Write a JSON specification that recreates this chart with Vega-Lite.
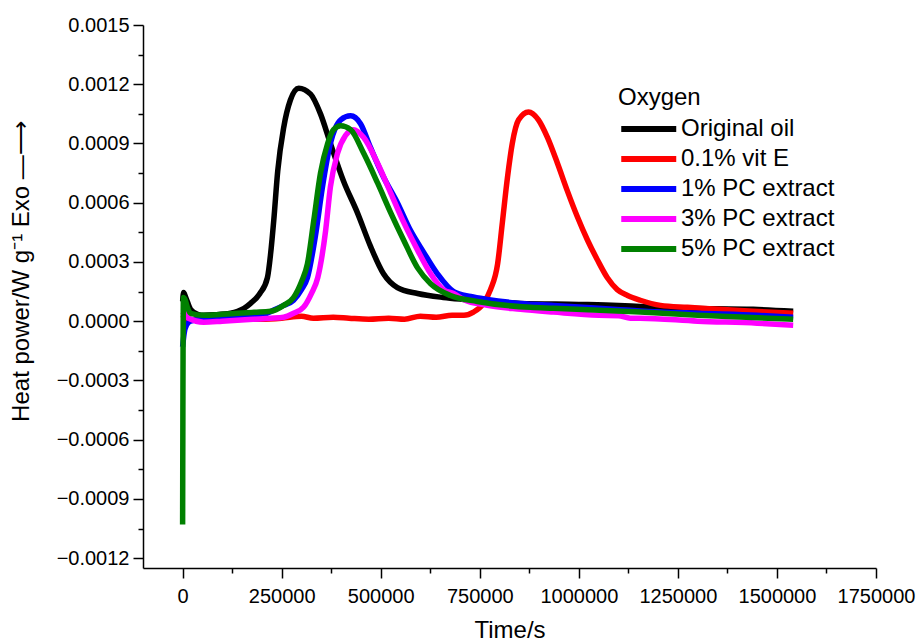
{
  "$schema": "https://vega.github.io/schema/vega-lite/v6.json",
  "autosize": {"type": "none"},
  "padding": {"left": 143, "top": 25, "right": 40, "bottom": 73},
  "width": 733,
  "height": 543,
  "background": "white",
  "config": {
    "view": {"stroke": null},
    "font": "Liberation Sans",
    "axis": {
      "grid": false,
      "domainColor": "black",
      "domainWidth": 1.5,
      "tickColor": "black",
      "tickWidth": 1.5,
      "labelColor": "black",
      "titleColor": "black",
      "labelFont": "Liberation Sans",
      "titleFont": "Liberation Sans",
      "labelFontSize": 20,
      "titleFontSize": 24,
      "titleFontWeight": "normal"
    }
  },
  "data": {
    "values": [
      {"series": "Original oil", "t": 0, "v": 0.0001},
      {"series": "Original oil", "t": 2500, "v": 0.000145},
      {"series": "Original oil", "t": 8000, "v": 0.00012},
      {"series": "Original oil", "t": 20000, "v": 0.00006},
      {"series": "Original oil", "t": 38000, "v": 0.000035},
      {"series": "Original oil", "t": 53000, "v": 0.00003},
      {"series": "Original oil", "t": 80000, "v": 0.000032},
      {"series": "Original oil", "t": 121000, "v": 0.00004},
      {"series": "Original oil", "t": 139000, "v": 0.00005},
      {"series": "Original oil", "t": 155000, "v": 0.000065},
      {"series": "Original oil", "t": 171500, "v": 0.00009},
      {"series": "Original oil", "t": 195000, "v": 0.00014},
      {"series": "Original oil", "t": 214000, "v": 0.00022},
      {"series": "Original oil", "t": 222000, "v": 0.00034},
      {"series": "Original oil", "t": 230000, "v": 0.00051},
      {"series": "Original oil", "t": 240000, "v": 0.00076},
      {"series": "Original oil", "t": 255000, "v": 0.00098},
      {"series": "Original oil", "t": 272000, "v": 0.00112},
      {"series": "Original oil", "t": 293000, "v": 0.00118},
      {"series": "Original oil", "t": 323000, "v": 0.00115},
      {"series": "Original oil", "t": 348000, "v": 0.00105},
      {"series": "Original oil", "t": 373000, "v": 0.0009},
      {"series": "Original oil", "t": 406000, "v": 0.00071},
      {"series": "Original oil", "t": 441000, "v": 0.00055},
      {"series": "Original oil", "t": 474000, "v": 0.00038},
      {"series": "Original oil", "t": 507000, "v": 0.00024},
      {"series": "Original oil", "t": 542000, "v": 0.00017},
      {"series": "Original oil", "t": 593000, "v": 0.00014},
      {"series": "Original oil", "t": 658000, "v": 0.00012},
      {"series": "Original oil", "t": 709000, "v": 0.00011},
      {"series": "Original oil", "t": 853000, "v": 0.00009},
      {"series": "Original oil", "t": 1000000, "v": 0.000085},
      {"series": "Original oil", "t": 1100000, "v": 0.00008},
      {"series": "Original oil", "t": 1155000, "v": 0.000075},
      {"series": "Original oil", "t": 1274000, "v": 0.000066},
      {"series": "Original oil", "t": 1440000, "v": 0.00006},
      {"series": "Original oil", "t": 1541000, "v": 0.00005},

      {"series": "0.1% vit E", "t": 0, "v": 0.00003},
      {"series": "0.1% vit E", "t": 10000, "v": 0.00001},
      {"series": "0.1% vit E", "t": 50000, "v": 0.000005},
      {"series": "0.1% vit E", "t": 100000, "v": 0.000008},
      {"series": "0.1% vit E", "t": 150000, "v": 0.00001},
      {"series": "0.1% vit E", "t": 200000, "v": 0.00001},
      {"series": "0.1% vit E", "t": 250000, "v": 0.000015},
      {"series": "0.1% vit E", "t": 300000, "v": 0.000025},
      {"series": "0.1% vit E", "t": 330000, "v": 0.000015},
      {"series": "0.1% vit E", "t": 380000, "v": 0.00002},
      {"series": "0.1% vit E", "t": 420000, "v": 0.000015},
      {"series": "0.1% vit E", "t": 470000, "v": 0.00001},
      {"series": "0.1% vit E", "t": 520000, "v": 0.000015},
      {"series": "0.1% vit E", "t": 560000, "v": 0.00001},
      {"series": "0.1% vit E", "t": 600000, "v": 0.000025},
      {"series": "0.1% vit E", "t": 640000, "v": 0.00002},
      {"series": "0.1% vit E", "t": 680000, "v": 0.00003},
      {"series": "0.1% vit E", "t": 710000, "v": 0.00003},
      {"series": "0.1% vit E", "t": 734000, "v": 0.000046},
      {"series": "0.1% vit E", "t": 759000, "v": 0.00009},
      {"series": "0.1% vit E", "t": 777000, "v": 0.00016},
      {"series": "0.1% vit E", "t": 795000, "v": 0.00029},
      {"series": "0.1% vit E", "t": 807000, "v": 0.0005},
      {"series": "0.1% vit E", "t": 820000, "v": 0.00073},
      {"series": "0.1% vit E", "t": 832000, "v": 0.0009},
      {"series": "0.1% vit E", "t": 848000, "v": 0.00102},
      {"series": "0.1% vit E", "t": 873000, "v": 0.00106},
      {"series": "0.1% vit E", "t": 898000, "v": 0.00102},
      {"series": "0.1% vit E", "t": 921000, "v": 0.00093},
      {"series": "0.1% vit E", "t": 946000, "v": 0.0008},
      {"series": "0.1% vit E", "t": 971000, "v": 0.00066},
      {"series": "0.1% vit E", "t": 996000, "v": 0.00053},
      {"series": "0.1% vit E", "t": 1022000, "v": 0.00041},
      {"series": "0.1% vit E", "t": 1047000, "v": 0.00031},
      {"series": "0.1% vit E", "t": 1072000, "v": 0.00022},
      {"series": "0.1% vit E", "t": 1097000, "v": 0.00016},
      {"series": "0.1% vit E", "t": 1123000, "v": 0.00013},
      {"series": "0.1% vit E", "t": 1155000, "v": 0.000106},
      {"series": "0.1% vit E", "t": 1206000, "v": 0.00008},
      {"series": "0.1% vit E", "t": 1274000, "v": 0.00007},
      {"series": "0.1% vit E", "t": 1357000, "v": 0.00006},
      {"series": "0.1% vit E", "t": 1440000, "v": 0.00005},
      {"series": "0.1% vit E", "t": 1541000, "v": 0.00004},

      {"series": "1% PC extract", "t": 0, "v": -0.00013},
      {"series": "1% PC extract", "t": 4000, "v": -0.00006},
      {"series": "1% PC extract", "t": 10000, "v": -0.00002},
      {"series": "1% PC extract", "t": 20000, "v": 0.0},
      {"series": "1% PC extract", "t": 50000, "v": 0.00001},
      {"series": "1% PC extract", "t": 100000, "v": 0.000015},
      {"series": "1% PC extract", "t": 150000, "v": 0.00002},
      {"series": "1% PC extract", "t": 200000, "v": 0.00003},
      {"series": "1% PC extract", "t": 230000, "v": 0.000056},
      {"series": "1% PC extract", "t": 255000, "v": 0.00008},
      {"series": "1% PC extract", "t": 280000, "v": 0.000106},
      {"series": "1% PC extract", "t": 300000, "v": 0.00016},
      {"series": "1% PC extract", "t": 315000, "v": 0.00022},
      {"series": "1% PC extract", "t": 335000, "v": 0.00043},
      {"series": "1% PC extract", "t": 353000, "v": 0.00068},
      {"series": "1% PC extract", "t": 373000, "v": 0.0009},
      {"series": "1% PC extract", "t": 399000, "v": 0.00102},
      {"series": "1% PC extract", "t": 424000, "v": 0.00104},
      {"series": "1% PC extract", "t": 449000, "v": 0.001},
      {"series": "1% PC extract", "t": 474000, "v": 0.00088},
      {"series": "1% PC extract", "t": 507000, "v": 0.00073},
      {"series": "1% PC extract", "t": 542000, "v": 0.0006},
      {"series": "1% PC extract", "t": 575000, "v": 0.00046},
      {"series": "1% PC extract", "t": 608000, "v": 0.00035},
      {"series": "1% PC extract", "t": 643000, "v": 0.00024},
      {"series": "1% PC extract", "t": 684000, "v": 0.00015},
      {"series": "1% PC extract", "t": 727000, "v": 0.000125},
      {"series": "1% PC extract", "t": 769000, "v": 0.00011},
      {"series": "1% PC extract", "t": 853000, "v": 0.00009},
      {"series": "1% PC extract", "t": 936000, "v": 0.00008},
      {"series": "1% PC extract", "t": 1105000, "v": 0.000058},
      {"series": "1% PC extract", "t": 1155000, "v": 0.000052},
      {"series": "1% PC extract", "t": 1300000, "v": 0.00004},
      {"series": "1% PC extract", "t": 1450000, "v": 0.00003},
      {"series": "1% PC extract", "t": 1541000, "v": 0.00002},

      {"series": "3% PC extract", "t": 0, "v": 0.00003},
      {"series": "3% PC extract", "t": 5000, "v": 0.00004},
      {"series": "3% PC extract", "t": 15000, "v": 0.000015},
      {"series": "3% PC extract", "t": 53000, "v": -0.000005},
      {"series": "3% PC extract", "t": 100000, "v": 0.0},
      {"series": "3% PC extract", "t": 138000, "v": 0.000005},
      {"series": "3% PC extract", "t": 180000, "v": 0.00001},
      {"series": "3% PC extract", "t": 222000, "v": 0.000015},
      {"series": "3% PC extract", "t": 255000, "v": 0.00002},
      {"series": "3% PC extract", "t": 280000, "v": 0.00004},
      {"series": "3% PC extract", "t": 305000, "v": 0.00007},
      {"series": "3% PC extract", "t": 325000, "v": 0.00014},
      {"series": "3% PC extract", "t": 341000, "v": 0.00022},
      {"series": "3% PC extract", "t": 361000, "v": 0.00046},
      {"series": "3% PC extract", "t": 373000, "v": 0.00068},
      {"series": "3% PC extract", "t": 391000, "v": 0.00085},
      {"series": "3% PC extract", "t": 411000, "v": 0.00094},
      {"series": "3% PC extract", "t": 431000, "v": 0.00097},
      {"series": "3% PC extract", "t": 457000, "v": 0.00093},
      {"series": "3% PC extract", "t": 492000, "v": 0.0008},
      {"series": "3% PC extract", "t": 525000, "v": 0.00065},
      {"series": "3% PC extract", "t": 558000, "v": 0.0005},
      {"series": "3% PC extract", "t": 593000, "v": 0.00036},
      {"series": "3% PC extract", "t": 626000, "v": 0.00024},
      {"series": "3% PC extract", "t": 658000, "v": 0.00016},
      {"series": "3% PC extract", "t": 684000, "v": 0.00014},
      {"series": "3% PC extract", "t": 709000, "v": 0.00011},
      {"series": "3% PC extract", "t": 769000, "v": 0.00008},
      {"series": "3% PC extract", "t": 853000, "v": 0.00006},
      {"series": "3% PC extract", "t": 936000, "v": 0.000046},
      {"series": "3% PC extract", "t": 1050000, "v": 0.00003},
      {"series": "3% PC extract", "t": 1100000, "v": 0.000028},
      {"series": "3% PC extract", "t": 1130000, "v": 0.000015},
      {"series": "3% PC extract", "t": 1155000, "v": 0.000015},
      {"series": "3% PC extract", "t": 1300000, "v": 0.0},
      {"series": "3% PC extract", "t": 1450000, "v": -0.00001},
      {"series": "3% PC extract", "t": 1541000, "v": -0.00002},

      {"series": "5% PC extract", "t": 0, "v": -0.00103},
      {"series": "5% PC extract", "t": 2000, "v": 0.00012},
      {"series": "5% PC extract", "t": 6000, "v": 0.00011},
      {"series": "5% PC extract", "t": 12000, "v": 0.00007},
      {"series": "5% PC extract", "t": 20000, "v": 0.00004},
      {"series": "5% PC extract", "t": 53000, "v": 0.00003},
      {"series": "5% PC extract", "t": 100000, "v": 0.000035},
      {"series": "5% PC extract", "t": 139000, "v": 0.00004},
      {"series": "5% PC extract", "t": 180000, "v": 0.000045},
      {"series": "5% PC extract", "t": 222000, "v": 0.00005},
      {"series": "5% PC extract", "t": 255000, "v": 0.00008},
      {"series": "5% PC extract", "t": 280000, "v": 0.00012},
      {"series": "5% PC extract", "t": 300000, "v": 0.0002},
      {"series": "5% PC extract", "t": 315000, "v": 0.00029},
      {"series": "5% PC extract", "t": 331000, "v": 0.00051},
      {"series": "5% PC extract", "t": 348000, "v": 0.00075},
      {"series": "5% PC extract", "t": 366000, "v": 0.0009},
      {"series": "5% PC extract", "t": 381000, "v": 0.00097},
      {"series": "5% PC extract", "t": 399000, "v": 0.00099},
      {"series": "5% PC extract", "t": 424000, "v": 0.00097},
      {"series": "5% PC extract", "t": 457000, "v": 0.00085},
      {"series": "5% PC extract", "t": 492000, "v": 0.0007},
      {"series": "5% PC extract", "t": 525000, "v": 0.00055},
      {"series": "5% PC extract", "t": 558000, "v": 0.00041},
      {"series": "5% PC extract", "t": 593000, "v": 0.00027},
      {"series": "5% PC extract", "t": 626000, "v": 0.00019},
      {"series": "5% PC extract", "t": 676000, "v": 0.00013},
      {"series": "5% PC extract", "t": 744000, "v": 0.0001},
      {"series": "5% PC extract", "t": 878000, "v": 0.00007},
      {"series": "5% PC extract", "t": 936000, "v": 0.000066},
      {"series": "5% PC extract", "t": 1155000, "v": 0.000046},
      {"series": "5% PC extract", "t": 1300000, "v": 0.00003},
      {"series": "5% PC extract", "t": 1541000, "v": 0.00001}
    ]
  },
  "mark": {"type": "line", "strokeWidth": 5.5, "strokeJoin": "round", "strokeCap": "butt", "interpolate": "monotone"},
  "encoding": {
    "x": {
      "field": "t",
      "type": "quantitative",
      "scale": {"domain": [-100000, 1750000], "nice": false, "zero": false},
      "axis": {
        "title": "Time/s",
        "titlePadding": 12,
        "values": [0, 125000, 250000, 375000, 500000, 625000, 750000, 875000, 1000000, 1125000, 1250000, 1375000, 1500000, 1625000, 1750000],
        "labelExpr": "datum.value % 250000 === 0 ? format(datum.value, 'd') : ''",
        "tickSize": {"condition": {"test": "datum.value % 250000 !== 0", "value": 5}, "value": 10},
        "labelPadding": 8,
        "labelFlush": false,
        "labelOverlap": false
      }
    },
    "y": {
      "field": "v",
      "type": "quantitative",
      "scale": {"domain": [-0.00125, 0.0015], "nice": false, "zero": false},
      "axis": {
        "title": "Heat power/W g⁻¹ Exo ―⟶",
        "titleX": -110,
        "titleY": 246,
        "titleAnchor": "middle",
        "values": [-0.0012, -0.00105, -0.0009, -0.00075, -0.0006, -0.00045, -0.0003, -0.00015, 0, 0.00015, 0.0003, 0.00045, 0.0006, 0.00075, 0.0009, 0.00105, 0.0012, 0.00135, 0.0015],
        "labelExpr": "abs(round(datum.value / 0.0003) - datum.value / 0.0003) > 0.01 ? '' : format(datum.value, '.4f')",
        "tickSize": {"condition": {"test": "abs(round(datum.value / 0.0003) - datum.value / 0.0003) > 0.01", "value": 5}, "value": 10},
        "labelPadding": 4,
        "labelFlush": false,
        "labelOverlap": false
      }
    },
    "color": {
      "field": "series",
      "type": "nominal",
      "scale": {
        "domain": ["Original oil", "0.1% vit E", "1% PC extract", "3% PC extract", "5% PC extract"],
        "range": ["#000000", "#ff0000", "#0000ff", "#ff00ff", "#008000"]
      },
      "legend": {
        "title": "Oxygen",
        "orient": "none",
        "legendX": 475,
        "legendY": 61,
        "titleFontSize": 24,
        "titleFontWeight": "normal",
        "titleColor": "black",
        "titleFont": "Liberation Sans",
        "titlePadding": 2,
        "labelFontSize": 24,
        "labelColor": "black",
        "labelFont": "Liberation Sans",
        "labelOffset": 29,
        "symbolType": "M-1,0H3",
        "symbolSize": 756,
        "symbolStrokeWidth": 6,
        "rowPadding": 1,
        "labelLimit": 300
      }
    }
  }
}
